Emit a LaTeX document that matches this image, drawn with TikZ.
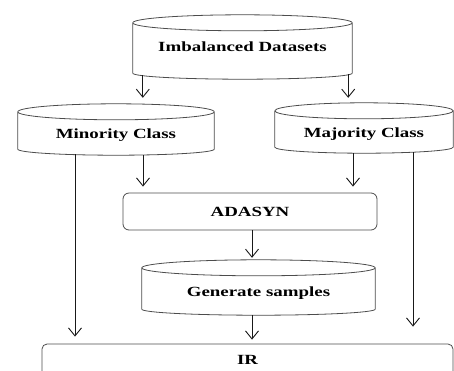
\documentclass[tikz,border=0pt]{standalone}
\usepackage{fontspec}
\newfontfamily\lblfont{Liberation Serif}[FakeStretch=1.35]
\usetikzlibrary{arrows.meta,calc}

% Cylinder outline drawn around the bounding box of a named node
\newcommand\drawdrum[1]{%
  \draw[outline] let \p1=(#1.north west), \p2=(#1.south east), \n1={(\x2-\x1)/2} in
    (\x1,\y1-8pt) arc[start angle=180,end angle=-180,x radius=\n1,y radius=8pt]
    (\x1,\y1-8pt) -- (\x1,\y2+6pt)
      arc[start angle=180,end angle=360,x radius=\n1,y radius=6pt]
      -- (\x2,\y1-8pt);}

\tikzset{
  outline/.style={draw=black!70, line width=0.8pt},
  body/.style={inner sep=0pt, draw=none},
  txt/.style={font=\lblfont\bfseries\fontsize{14pt}{16pt}\selectfont, inner sep=0pt},
  procbox/.style={outline, rounded corners=6pt, inner sep=0pt, txt},
  arr/.style={draw=black!90, line width=0.9pt, -{Straight Barb[length=8pt,width=13pt]}},
}

\begin{document}
\begin{tikzpicture}[x=1pt,y=-1pt]
\clip (0,0) rectangle (454,370);

% cylinders (data stores)
\node[body, minimum width=219pt, minimum height=64pt,
      label={[txt,name=imbT]center:Imbalanced Datasets}] (imb) at (242.5,47) {};
\node[body, minimum width=196pt, minimum height=51pt,
      label={[txt,name=minT,yshift=-5.5pt]center:Minority Class}] (min) at (116,129.5) {};
\node[body, minimum width=178pt, minimum height=50pt,
      label={[txt,name=majT,yshift=-6pt]center:Majority Class}] (maj) at (364,128) {};
\node[body, minimum width=233pt, minimum height=55pt,
      label={[txt,name=genT,yshift=-5.5pt]center:Generate samples}] (gen) at (258.5,287.5) {};
\drawdrum{imb}
\drawdrum{min}
\drawdrum{maj}
\drawdrum{gen}

% processing boxes
\node[procbox, minimum width=254pt, minimum height=37pt] (ada) at (250,211.5) {ADASYN};
\node[procbox, rounded corners=5pt, minimum width=411pt, minimum height=32pt] (ir) at (247.5,360) {IR};

% connectors
\coordinate (imbL) at ($(imb.south west)+(10pt,4pt)$);
\coordinate (imbR) at ($(imb.south east)+(-4pt,5pt)$);
\draw[arr, shorten >=6pt] (imbL) -- (imbL |- min.north);
\draw[arr, shorten >=5pt] (imbR) -- (imbR |- maj.north);

\coordinate (minA) at ($(min.south)+(27pt,0pt)$);
\coordinate (minI) at ($(min.south)+(-41pt,1pt)$);
\coordinate (majA) at ($(maj.south)+(-11pt,0pt)$);
\coordinate (majI) at ($(maj.south)+(49pt,1pt)$);
\draw[arr, shorten >=6pt] (minA) -- (minA |- ada.north);
\draw[arr, shorten >=6pt] (majA) -- (majA |- ada.north);
\draw[arr, shorten >=7pt] (minI) -- (minI |- ir.north);
\draw[arr, shorten >=17pt] (majI) -- (majI |- ir.north);

\coordinate (adaG) at ($(ada.south)+(2pt,0pt)$);
\coordinate (genI) at ($(gen.south)+(-6.5pt,0pt)$);
\draw[arr, shorten >=2pt] (adaG) -- (adaG |- gen.north);
\draw[arr, shorten >=4pt] (genI) -- (genI |- ir.north);
\end{tikzpicture}
\end{document}
